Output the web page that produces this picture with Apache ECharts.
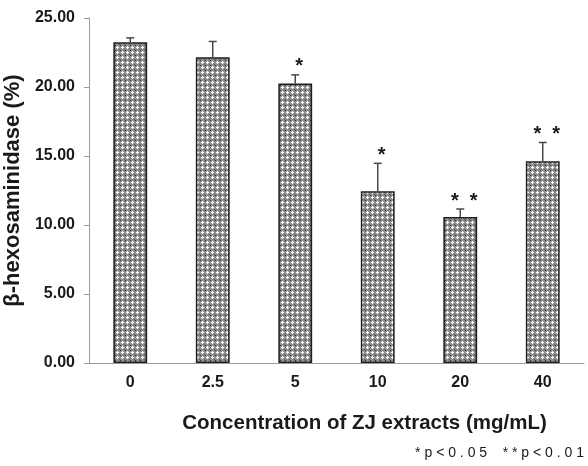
<!DOCTYPE html>
<html>
<head>
<meta charset="utf-8">
<script src="https://cdn.jsdelivr.net/npm/echarts@6/dist/echarts.min.js"></script>
<style>
  html, body { margin: 0; padding: 0; background: #fff; }
  #chart { width: 588px; height: 466px; }
</style>
</head>
<body>
<div id="chart"></div>
<script>
const concentrations = ['0', '2.5', '5', '10', '20', '40'];
const hexValues = [23.24, 22.15, 20.26, 12.44, 10.58, 14.62];
const hexErrors = [0.32, 1.15, 0.62, 2.03, 0.58, 1.36];
const significance = ['', '', '*', '*', '*  *', '*  *'];

// grey checker fill like the printed figure
const makePattern = () => {
    const c = document.createElement('canvas');
    c.width = 5; c.height = 5;
    const g = c.getContext('2d');
    g.fillStyle = '#8e8e8e';
    g.fillRect(0, 0, 5, 5);
    g.fillStyle = '#ffffff';
    g.fillRect(1, 2, 3, 1);
    g.fillRect(2, 1, 1, 3);
    g.fillStyle = '#2a2a2a';
    g.fillRect(0, 0, 1, 1);
    g.fillStyle = '#5a5a5a';
    g.fillRect(4, 4, 1, 1);
    return c;
};

const fontFam = '"Liberation Sans", Arial, sans-serif';
const chart = echarts.init(document.getElementById('chart'));

chart.setOption({
    animation: false,
    grid: { left: 89, right: 4, top: 18, bottom: 103, outerBoundsMode: 'none', containLabel: false },
    xAxis: {
        type: 'category',
        data: concentrations,
        axisLine: { lineStyle: { color: '#9a9a9a', width: 1 } },
        axisTick: { show: false },
        axisLabel: {
            margin: 12,
            fontFamily: fontFam,
            fontWeight: 'bold',
            fontSize: 16,
            color: '#1a1a1a'
        },
        name: 'Concentration of ZJ extracts (mg/mL)',
        nameLocation: 'middle',
        nameGap: 50,
        nameTextStyle: {
            fontFamily: fontFam,
            fontWeight: 'bold',
            fontSize: 20.5,
            color: '#1a1a1a',
            padding: [0, 0, 0, 56]
        }
    },
    yAxis: {
        type: 'value',
        min: 0,
        max: 25,
        interval: 5,
        axisLine: { show: true, lineStyle: { color: '#9a9a9a', width: 1 } },
        axisTick: { show: true, length: 5, lineStyle: { color: '#9a9a9a' } },
        splitLine: { show: false },
        axisLabel: {
            margin: 14,
            formatter: (v) => v.toFixed(2),
            fontFamily: fontFam,
            fontWeight: 'bold',
            fontSize: 16,
            color: '#1a1a1a'
        },
        name: 'β-hexosaminidase (%)',
        nameLocation: 'middle',
        nameGap: 61,
        nameTextStyle: {
            fontFamily: fontFam,
            fontWeight: 'bold',
            fontSize: 22,
            color: '#1a1a1a'
        }
    },
    graphic: [{
        type: 'text',
        right: 4,
        top: 446,
        style: {
            text: '* p < 0 . 0 5    * * p < 0 . 0 1',
            font: '14px ' + fontFam,
            fill: '#1a1a1a'
        }
    }],
    series: [
        {
            type: 'bar',
            data: hexValues,
            barWidth: '41%',
            itemStyle: {
                color: { image: makePattern(), repeat: 'repeat' },
                borderColor: '#1e1e1e',
                borderWidth: 1.5
            }
        },
        {
            type: 'custom',
            data: hexValues.map((v, i) => [i, v, hexErrors[i]]),
            z: 3,
            renderItem: (params, api) => {
                const i = api.value(0);
                const v = api.value(1);
                const e = api.value(2);
                const base = api.coord([i, v]);
                const top = api.coord([i, v + e]);
                const children = [
                    {
                        type: 'line',
                        shape: { x1: base[0], y1: base[1], x2: top[0], y2: top[1] },
                        style: { stroke: '#4a4a4a', lineWidth: 1.5 }
                    },
                    {
                        type: 'line',
                        shape: { x1: top[0] - 4, y1: top[1], x2: top[0] + 4, y2: top[1] },
                        style: { stroke: '#4a4a4a', lineWidth: 1.5 }
                    }
                ];
                if (significance[i]) {
                    children.push({
                        type: 'text',
                        x: top[0] + 4,
                        y: top[1] + 2,
                        style: {
                            text: significance[i],
                            font: 'bold 20px ' + fontFam,
                            fill: '#1a1a1a',
                            align: 'center',
                            verticalAlign: 'bottom'
                        }
                    });
                }
                return { type: 'group', children };
            }
        }
    ]
});
</script>
</body>
</html>
